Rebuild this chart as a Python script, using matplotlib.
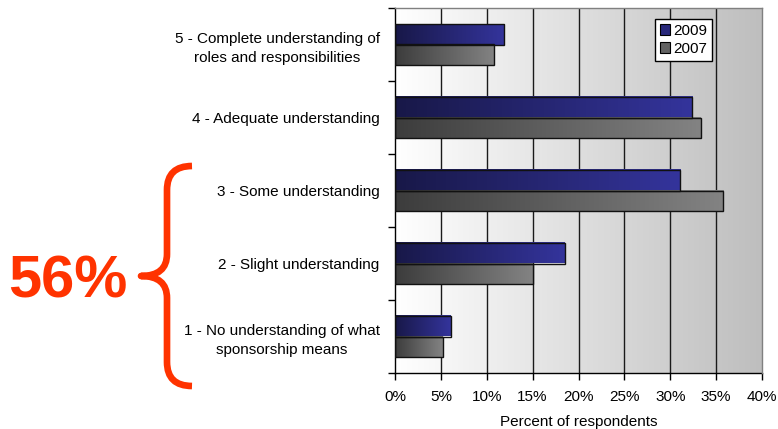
import numpy as np
import matplotlib
matplotlib.use("Agg")
import matplotlib.pyplot as plt
from matplotlib.path import Path
from matplotlib.patches import PathPatch, Patch
from matplotlib.colors import LinearSegmentedColormap

# Survey data: understanding of sponsorship roles (percent of respondents)
categories = [
    "1 - No understanding of what\nsponsorship means",
    "2 - Slight understanding",
    "3 - Some understanding",
    "4 - Adequate understanding",
    "5 - Complete understanding of\nroles and responsibilities",
]
pct_2009 = [6.1, 18.5, 31.1, 32.4, 11.9]
pct_2007 = [5.2, 15.0, 35.8, 33.3, 10.8]
series_names = ["2009", "2007"]
x_ticks = [0, 5, 10, 15, 20, 25, 30, 35, 40]
x_tick_labels = [f"{t}%" for t in x_ticks]
x_label = "Percent of respondents"
callout = "56%"

plt.rcParams["font.family"] = ["Liberation Sans", "DejaVu Sans"]
FS = 11

W, H = 778, 429
fig = plt.figure(figsize=(W / 100, H / 100), dpi=100)
fig.patch.set_facecolor("white")

L, R, T, B = 395, 762, 8, 373
ax = fig.add_axes([L / W, 1 - B / H, (R - L) / W, (B - T) / H])

xmin, xmax = 0, 40
ymin, ymax = -0.5, len(categories) - 0.5

# plot-area background: white fading to grey towards the right
bg = LinearSegmentedColormap.from_list("bg", ["#ffffff", "#bebebe"])
ax.imshow(np.linspace(0, 1, 256).reshape(1, -1), cmap=bg,
          extent=[xmin, xmax, ymin, ymax], aspect="auto", zorder=0)

# vertical gridlines
for t in x_ticks[1:-1]:
    ax.axvline(t, color="#1a1a1a", lw=1.0, zorder=1)

y = np.arange(len(categories))
bh = 0.28
bars09 = ax.barh(y + bh / 2, pct_2009, height=bh, facecolor="none",
                 edgecolor="#111111", lw=1.0, zorder=3)
bars07 = ax.barh(y - bh / 2, pct_2007, height=bh, facecolor="none",
                 edgecolor="#111111", lw=1.0, zorder=3)


def gradient_fill(bars, c0, c1):
    cmap = LinearSegmentedColormap.from_list("g", [c0, c1])
    g = np.linspace(0, 1, 256).reshape(1, -1)
    for b in bars:
        x0, y0 = b.get_x(), b.get_y()
        ax.imshow(g, cmap=cmap, aspect="auto", zorder=2,
                  extent=[x0, x0 + b.get_width(), y0, y0 + b.get_height()])


gradient_fill(bars09, "#181848", "#34349c")
gradient_fill(bars07, "#3c3c3c", "#838383")

ax.set_xlim(xmin, xmax)
ax.set_ylim(ymin, ymax)

# axes frame
for s in ["top", "right"]:
    ax.spines[s].set_color("#808080")
    ax.spines[s].set_linewidth(1.0)
for s in ["left", "bottom"]:
    ax.spines[s].set_color("black")
    ax.spines[s].set_linewidth(1.0)
ax.spines["top"].set_zorder(4)
ax.spines["right"].set_zorder(4)

ax.set_xticks(x_ticks)
ax.set_xticklabels(x_tick_labels, fontsize=FS)
ax.tick_params(axis="x", direction="out", length=5, width=1, pad=7, color="black")

ax.set_yticks(np.arange(len(categories) + 1) - 0.5)
ax.set_yticklabels([])
ax.tick_params(axis="y", which="major", direction="out", length=5, width=1, color="black")
ax.set_yticks(y, minor=True)
ax.set_yticklabels(categories, minor=True, fontsize=FS)
ax.tick_params(axis="y", which="minor", length=0, pad=11)
for lbl in ax.get_yticklabels(minor=True):
    lbl.set_multialignment("center")
    lbl.set_linespacing(1.45)

ax.set_xlabel(x_label, fontsize=FS, labelpad=8)

leg = ax.legend(
    handles=[Patch(facecolor="#28287a", edgecolor="black", lw=0.8),
             Patch(facecolor="#626262", edgecolor="black", lw=0.8)],
    labels=series_names, loc="upper left",
    bbox_to_anchor=((655 - L) / (R - L), (B - 19) / (B - T)),
    borderaxespad=0, fontsize=FS, frameon=True, fancybox=False, framealpha=1,
    handlelength=0.7, handleheight=0.7, handletextpad=0.2, borderpad=0.3,
    labelspacing=0.3)
leg.get_frame().set_edgecolor("black")
leg.get_frame().set_linewidth(1.0)
leg.set_zorder(5)

# callout overlay in pixel coordinates
ov = fig.add_axes([0, 0, 1, 1])
ov.set_xlim(0, W)
ov.set_ylim(H, 0)
ov.axis("off")
ov.patch.set_visible(False)

red = "#ff3300"
xr, xv, xt = 192, 167, 141
verts = [(xr, 166), (xv, 166), (xv, 190),
         (xv, 254),
         (xv, 276), (xt, 276),
         (xv, 276), (xv, 298),
         (xv, 362),
         (xv, 386), (xr, 386)]
codes = [Path.MOVETO, Path.CURVE3, Path.CURVE3,
         Path.LINETO,
         Path.CURVE3, Path.CURVE3,
         Path.CURVE3, Path.CURVE3,
         Path.LINETO,
         Path.CURVE3, Path.CURVE3]
ov.add_patch(PathPatch(Path(verts, codes), facecolor="none", edgecolor=red,
                       lw=4.8, capstyle="butt", joinstyle="round"))
ov.text(68, 298, callout, color=red, fontsize=43, fontweight="bold",
        ha="center", va="baseline")

fig.savefig("out.png", dpi=100)
